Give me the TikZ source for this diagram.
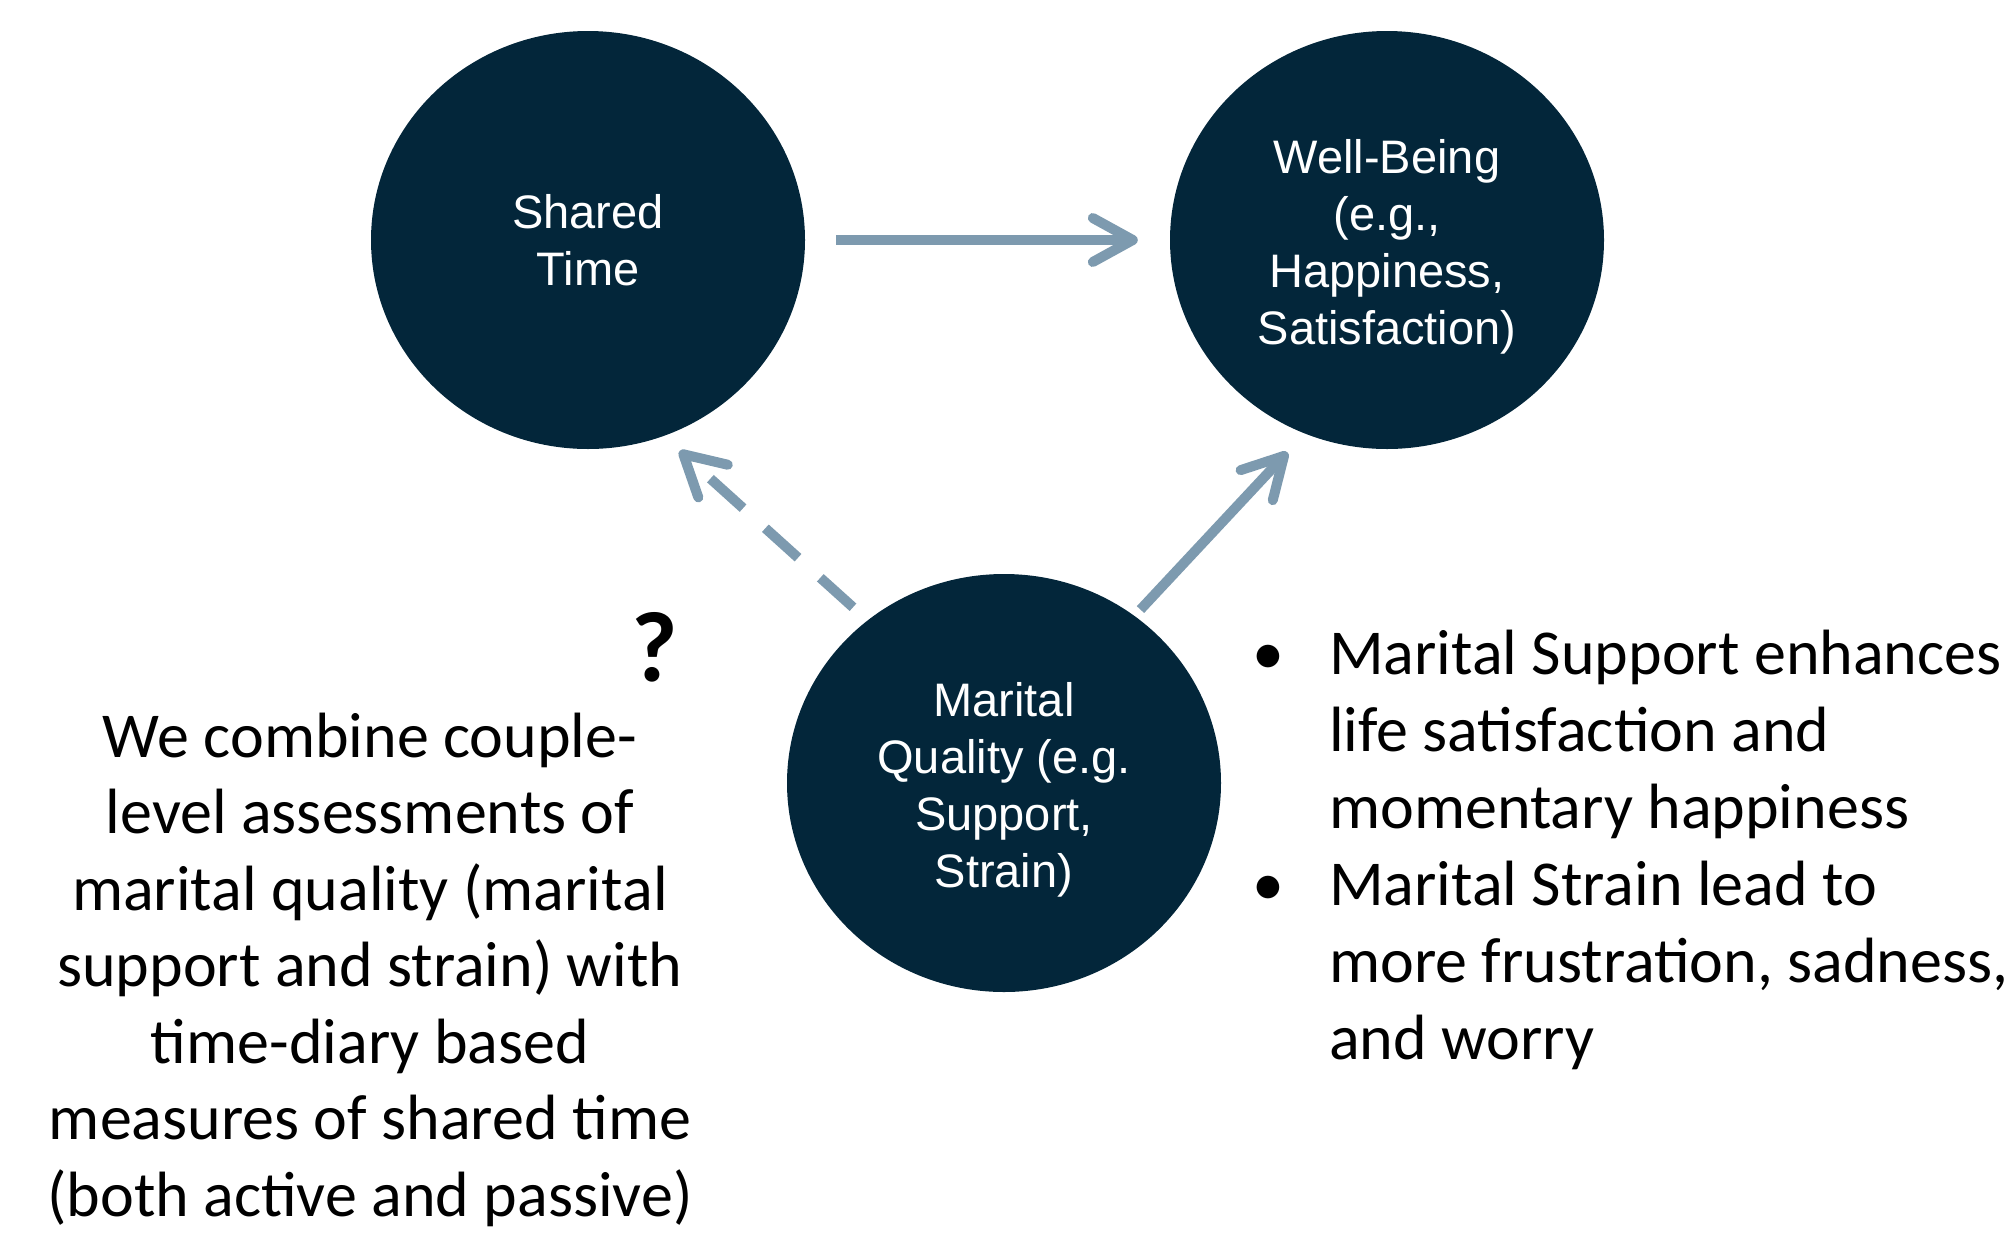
\documentclass[tikz,border=0pt]{standalone}
\usepackage{fontspec}
\setmainfont{Carlito}
\newfontfamily\circfont{Liberation Sans}
\usetikzlibrary{shapes.geometric,arrows.meta}
\definecolor{navy}{HTML}{03263A}
\definecolor{steel}{HTML}{7D9AAF}
\newcommand{\toplift}{\rule{0pt}{48pt}}
\begin{document}
\begin{tikzpicture}[x=1pt,y=-1pt,
  bubble/.style={ellipse, fill=navy, minimum width=434pt, minimum height=418pt,
    inner sep=0pt, text=white, align=center,
    font=\circfont\fontsize{47}{57}\selectfont},
  conn/.style={draw=steel, line width=10pt,
    -{Straight Barb[length=40pt,width=44pt,line cap=round,line join=round]}},
  body/.style={font=\fontsize{64}{77}\selectfont, inner sep=0pt}
]
\useasboundingbox[fill=white] (0,0) rectangle (2010,1232);

% the three constructs
\node[bubble] (st) at (588,240) {Shared\\Time};
\node[bubble] (wb) at (1387,240) {\toplift Well-Being\\(e.g.,\\Happiness,\\Satisfaction)};
\node[bubble] (mq) at (1004,783) {\toplift Marital\\Quality (e.g.\\Support,\\Strain)};

% paths between them
\draw[conn, shorten <=31pt, shorten >=32pt] (st) -- (wb);
\draw[conn, dash pattern=on 44pt off 30pt, shorten <=19.5pt, shorten >=22pt]
  (mq.130.2) -- (st.-69.2);
\draw[conn, shorten <=8.6pt, shorten >=25.5pt] (mq.52.9) -- (wb.-113.7);

% open question on the dashed path
\node[font=\bfseries\fontsize{100}{110}\selectfont, inner sep=0pt, anchor=base]
  (q) at (655,681) {?};

% description of the data
\node[body, font=\fontsize{64}{76.5}\selectfont, anchor=base] (desc) at (370,757) {\begin{tabular}[t]{@{}c@{}}
We combine couple-\\
level assessments of\\
marital quality (marital\\
support and strain) with\\
time-diary based\\
measures of shared time\\
(both active and passive)
\end{tabular}};

% findings
\node[body, anchor=base west] (find) at (1252,674) {\begin{tabular}[t]{@{}l@{}l@{}}
\makebox[77pt][l]{\textbullet} & Marital Support enhances\\
 & life satisfaction and\\
 & momentary happiness\\
\makebox[77pt][l]{\textbullet} & Marital Strain lead to\\
 & more frustration, sadness,\\
 & and worry
\end{tabular}};
\end{tikzpicture}
\end{document}
